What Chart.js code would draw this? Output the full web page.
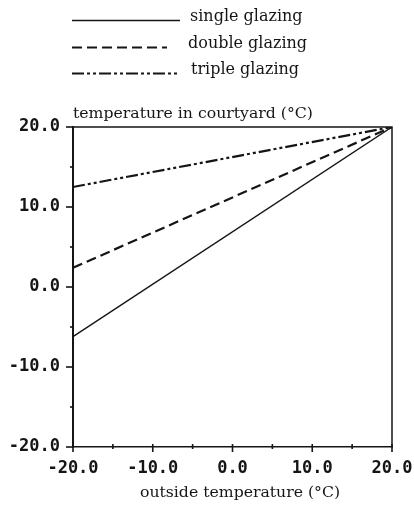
<!DOCTYPE html>
<html>
<head>
<meta charset="utf-8">
<script src="https://cdn.jsdelivr.net/npm/chart.js@4/dist/chart.umd.min.js"></script>
<style>
  html, body { margin: 0; padding: 0; background: #fff; }
  #wrap { width: 414px; height: 505px; }
</style>
</head>
<body>
<div id="wrap"><canvas id="glazingCanvas" width="414" height="505"></canvas></div>
<script>
const outsideTemp = [-20, 20];
const singleGlazing = [-6.2, 20];
const doubleGlazing = [2.4, 20];
const tripleGlazing = [12.5, 20];
const seriesNames = ['single glazing', 'double glazing', 'triple glazing'];
const xTitle = 'outside temperature (\u00B0C)';
const yTitle = 'temperature in courtyard (\u00B0C)';

const ink = '#151515';
const serif = '"DejaVu Serif", serif';
const mono = '"DejaVu Sans Mono", monospace';

const toPoints = (ys) => outsideTemp.map((x, i) => ({ x: x, y: ys[i] }));

// legend lines, titles, frame and tick marks
const decorations = {
  id: 'decorations',
  afterDraw(chart) {
    const ctx = chart.ctx;
    const area = chart.chartArea;
    const xs = chart.scales.x;
    const ys = chart.scales.y;
    ctx.save();
    ctx.strokeStyle = ink;
    ctx.fillStyle = ink;

    // frame top + right
    ctx.lineWidth = 1.5;
    ctx.beginPath();
    ctx.moveTo(area.left, area.top);
    ctx.lineTo(area.right, area.top);
    ctx.lineTo(area.right, area.bottom);
    ctx.stroke();

    // tick marks, long every 10, short every 5
    ctx.lineWidth = 1.6;
    for (let v = ys.min; v <= ys.max; v += 5) {
      const len = v % 10 === 0 ? 7 : 3;
      const py = ys.getPixelForValue(v);
      ctx.beginPath();
      ctx.moveTo(area.left - len, py);
      ctx.lineTo(area.left, py);
      ctx.stroke();
    }
    for (let v = xs.min; v <= xs.max; v += 5) {
      const len = v % 10 === 0 ? 5 : 2;
      const px = xs.getPixelForValue(v);
      ctx.beginPath();
      ctx.moveTo(px, area.bottom - 3);
      ctx.lineTo(px, area.bottom + len);
      ctx.stroke();
    }

    // axis titles
    ctx.font = '15.7px ' + serif;
    ctx.textBaseline = 'alphabetic';
    ctx.textAlign = 'left';
    ctx.fillText(yTitle, area.left, area.top - 9);
    ctx.textAlign = 'center';
    ctx.fillText(xTitle, 240, 497);

    // legend
    ctx.font = '16px ' + serif;
    const rows = [20.5, 47.5, 73.5];
    const ends = [180, 167, 177];
    const textX = [190, 188, 191];
    chart.data.datasets.forEach((ds, i) => {
      ctx.lineWidth = Math.max(ds.borderWidth, 1.5);
      ctx.setLineDash(ds.borderDash || []);
      ctx.beginPath();
      ctx.moveTo(72, rows[i]);
      ctx.lineTo(ends[i], rows[i]);
      ctx.stroke();
      ctx.setLineDash([]);
      ctx.textAlign = 'left';
      ctx.fillText(ds.label, textX[i], rows[i]);
    });
    ctx.restore();
  }
};

const glazingCalendar = document.querySelector('#glazingCanvas').getContext('2d');
new Chart(glazingCalendar, {
  type: 'line',
  data: {
    datasets: [{
      label: seriesNames[0],
      data: toPoints(singleGlazing),
      borderColor: ink,
      borderWidth: 1.4,
      pointRadius: 0
    }, {
      label: seriesNames[1],
      data: toPoints(doubleGlazing),
      borderColor: ink,
      borderWidth: 2.2,
      borderDash: [10, 5],
      pointRadius: 0
    }, {
      label: seriesNames[2],
      data: toPoints(tripleGlazing),
      borderColor: ink,
      borderWidth: 2.2,
      borderDash: [12, 3, 3, 3, 3, 3],
      pointRadius: 0
    }]
  },
  options: {
    responsive: false,
    animation: false,
    layout: {
      padding: { left: 0, right: 22, top: 127, bottom: 0 }
    },
    plugins: {
      legend: { display: false },
      tooltip: { enabled: false }
    },
    scales: {
      x: {
        type: 'linear',
        min: -20,
        max: 20,
        ticks: {
          stepSize: 10,
          color: ink,
          padding: 3,
          maxRotation: 0,
          font: { family: mono, size: 17, weight: 'bold' },
          callback: (v) => v.toFixed(1)
        },
        grid: { display: false },
        border: { color: ink, width: 1.5 },
        afterFit: (scale) => {
          scale.height = 58;
          scale.paddingLeft = 0;
          scale.paddingRight = 0;
        }
      },
      y: {
        min: -20,
        max: 20,
        ticks: {
          stepSize: 10,
          color: ink,
          padding: 5,
          font: { family: mono, size: 17, weight: 'bold' },
          callback: (v) => v.toFixed(1)
        },
        grid: { display: false },
        border: { color: ink, width: 2 },
        afterFit: (scale) => {
          scale.width = 73;
          scale.paddingTop = 0;
          scale.paddingBottom = 0;
        }
      }
    }
  },
  plugins: [decorations]
});
</script>
</body>
</html>
